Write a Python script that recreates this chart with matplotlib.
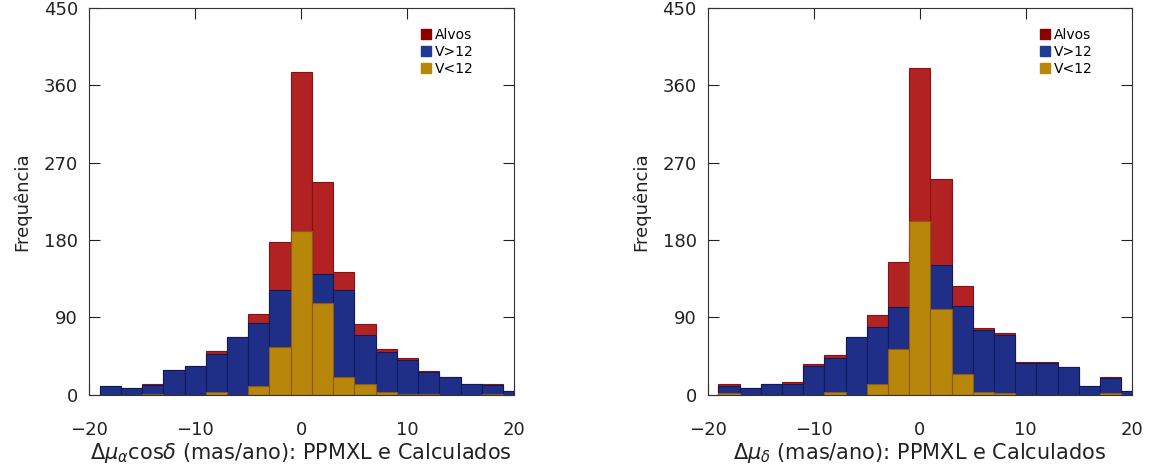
import matplotlib
matplotlib.use("Agg")
import matplotlib.pyplot as plt
from matplotlib.lines import Line2D

# ---- data ----
bin_centers = [-18, -16, -14, -12, -10, -8, -6, -4, -2, 0, 2, 4, 6, 8, 10, 12, 14, 16, 18, 20]

ra_alvos = [10, 8, 12, 29, 34, 51, 67, 94, 178, 375, 248, 143, 82, 53, 43, 28, 21, 12, 13, 4]
ra_vgt12 = [10, 8, 11, 29, 34, 48, 67, 83, 122, 184, 141, 122, 69, 50, 41, 27, 21, 12, 11, 4]
ra_vlt12 = [0, 0, 1, 0, 0, 3, 0, 10, 56, 190, 107, 21, 13, 3, 1, 1, 0, 0, 1, 0]

de_alvos = [12, 8, 13, 15, 36, 46, 67, 93, 155, 380, 251, 127, 78, 72, 38, 38, 32, 10, 21, 5]
de_vgt12 = [10, 8, 13, 13, 34, 43, 67, 79, 102, 178, 151, 103, 75, 70, 37, 37, 32, 10, 20, 5]
de_vlt12 = [2, 0, 0, 0, 0, 3, 0, 13, 53, 202, 100, 24, 3, 2, 0, 0, 0, 0, 2, 0]

y_ticks = [0, 90, 180, 270, 360, 450]
x_ticks = [-20, -10, 0, 10, 20]
legend_labels = ["Alvos", "V>12", "V<12"]
xlabels = [r"$\Delta\mu_\alpha$cos$\delta$ (mas/ano): PPMXL e Calculados",
           r"$\Delta\mu_\delta$ (mas/ano): PPMXL e Calculados"]

# ---- style ----
RED_FILL, RED_EDGE = "#B22222", "#8B1010"
BLUE_FILL, BLUE_EDGE = "#1F2F88", "#101A55"
GOLD_FILL, GOLD_EDGE = "#B8860B", "#8B5A1A"
LEG_COLORS = ["#8B0000", "#1F3A93", "#B8860B"]

plt.rcParams["font.family"] = ["DejaVu Sans"]
plt.rcParams["mathtext.fontset"] = "dejavusans"

fig = plt.figure(figsize=(11.49, 4.70), dpi=100)
axes = [fig.add_axes([0.0775, 0.160, 0.3695, 0.823]),
        fig.add_axes([0.616, 0.160, 0.369, 0.823])]

datasets = [(ra_alvos, ra_vgt12, ra_vlt12), (de_alvos, de_vgt12, de_vlt12)]

for ax, (alv, vg, vl), xl in zip(axes, datasets, xlabels):
    ax.bar(bin_centers, alv, width=2, color=RED_FILL, edgecolor=RED_EDGE, linewidth=0.8, zorder=2)
    ax.bar(bin_centers, vg, width=2, color=BLUE_FILL, edgecolor=BLUE_EDGE, linewidth=0.8, zorder=3)
    ax.bar(bin_centers, vl, width=2, color=GOLD_FILL, edgecolor=GOLD_EDGE, linewidth=0.8, zorder=4)
    ax.set_xlim(-20, 20)
    ax.set_ylim(0, 450)
    ax.set_xticks(x_ticks)
    ax.set_yticks(y_ticks)
    ax.tick_params(direction="in", length=8, width=0.8, top=True, right=True,
                   labelsize=13, colors="#222222")
    ax.tick_params(axis="x", pad=19)
    ax.tick_params(axis="y", pad=8)
    for s in ax.spines.values():
        s.set_linewidth(0.8)
        s.set_color("#333333")
        s.set_zorder(5)
    ax.set_xlabel(xl, fontsize=15, color="#222222", labelpad=1)
    ax.set_ylabel("Frequência", fontsize=13, color="#222222", labelpad=9)
    handles = [Line2D([], [], marker="s", linestyle="none", markersize=7,
                      markerfacecolor=c, markeredgecolor=c) for c in LEG_COLORS]
    ax.legend(handles, legend_labels, loc="upper left", bbox_to_anchor=(0.765, 0.962),
              frameon=False, fontsize=10, handletextpad=0.15, labelspacing=0.2,
              borderaxespad=0.0, handlelength=1.0)

fig.savefig("out.png", dpi=100)
